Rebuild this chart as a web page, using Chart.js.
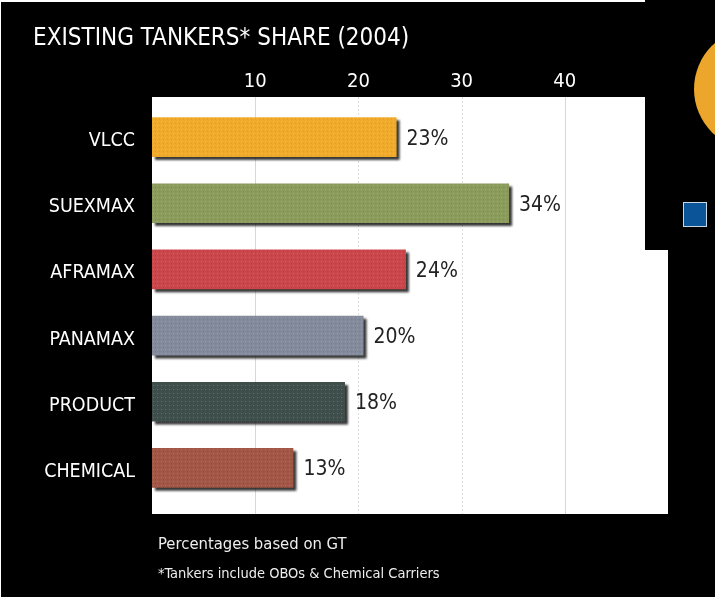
<!DOCTYPE html>
<html>
<head>
<meta charset="utf-8">
<script src="https://cdn.jsdelivr.net/npm/chart.js@4"></script>
<style>
  html, body { margin: 0; padding: 0; background: #000; }
  #wrap { width: 715px; height: 597px; }
</style>
</head>
<body>
<div id="wrap"><canvas id="grafikTanker" width="715" height="597"></canvas></div>
<script>
  var kategori = ["VLCC", "SUEXMAX", "AFRAMAX", "PANAMAX", "PRODUCT", "CHEMICAL"];
  var nilai = [23.7, 34.6, 24.6, 20.5, 18.7, 13.7];
  var labelNilai = ["23%", "34%", "24%", "20%", "18%", "13%"];
  var warna = ["#F1AB2C", "#8A9B5B", "#C9464B", "#838A9B", "#3F4F4C", "#A15646"];
  var tickX = [10, 20, 30, 40];
  var judul = "EXISTING TANKERS* SHARE (2004)";
  var catatan1 = "Percentages based on GT";
  var catatan2 = "*Tankers include OBOs & Chemical Carriers";

  var FONT = "'Liberation Sans Narrow', 'DejaVu Sans Condensed', sans-serif";

  // pola titik halus di atas warna dasar
  function pola(warnaDasar) {
    var c = document.createElement("canvas");
    c.width = 4; c.height = 4;
    var g = c.getContext("2d");
    g.fillStyle = warnaDasar;
    g.fillRect(0, 0, 4, 4);
    g.fillStyle = "rgba(255,255,255,0.18)";
    g.fillRect(1, 1, 1, 1);
    g.fillStyle = "rgba(0,0,0,0.08)";
    g.fillRect(3, 3, 1, 1);
    return g.createPattern(c, "repeat");
  }

  var latar = {
    id: "latar",
    beforeDraw: function(chart) {
      var ctx = chart.ctx;
      var x = chart.scales.x;
      var a = chart.chartArea;
      ctx.save();
      ctx.fillStyle = "#000";
      ctx.fillRect(0, 0, chart.width, chart.height);
      ctx.fillStyle = "#fff";
      ctx.fillRect(0, 0, 645, 2);
      ctx.fillRect(0, 0, 1, chart.height);
      // area plot putih
      ctx.fillRect(a.left, a.top - 7, a.right - a.left, a.bottom - a.top + 20);
      // garis grid
      tickX.forEach(function(t, i) {
        var px = Math.round(x.getPixelForValue(t)) + 0.5;
        ctx.beginPath();
        ctx.strokeStyle = (i === 0 || i === 3) ? "#d9d6d6" : "#dcdcdc";
        ctx.setLineDash((i === 0 || i === 3) ? [] : [2, 2]);
        ctx.lineWidth = 1;
        ctx.moveTo(px, a.top - 7);
        ctx.lineTo(px, a.bottom + 13);
        ctx.stroke();
      });
      ctx.setLineDash([]);
      // potongan grafik lain di kanan
      ctx.fillStyle = "#000";
      ctx.fillRect(645, 0, 70, 250);
      ctx.fillStyle = "#EBA62B";
      ctx.beginPath();
      ctx.arc(755, 89, 61, 0, Math.PI * 2);
      ctx.fill();
      ctx.fillStyle = "#0B5498";
      ctx.fillRect(683, 202, 24, 25);
      ctx.strokeStyle = "#c9d6e4";
      ctx.strokeRect(683.5, 202.5, 23, 24);
      // judul dan catatan
      ctx.fillStyle = "#fff";
      ctx.textBaseline = "alphabetic";
      ctx.textAlign = "left";
      ctx.font = "24px " + FONT;
      ctx.fillText(judul, 33, 45);
      ctx.fillStyle = "#eee";
      ctx.font = "16.5px " + FONT;
      ctx.fillText(catatan1, 158, 549);
      ctx.font = "14.5px " + FONT;
      ctx.fillText(catatan2, 158, 578);
      ctx.restore();
    },
    beforeDatasetDraw: function(chart) {
      var ctx = chart.ctx;
      ctx.save();
      ctx.shadowColor = "rgba(20,20,20,0.85)";
      ctx.shadowOffsetX = 3;
      ctx.shadowOffsetY = 3;
      ctx.shadowBlur = 2;
    },
    afterDatasetDraw: function(chart) {
      chart.ctx.restore();
    },
    afterDatasetsDraw: function(chart) {
      var ctx = chart.ctx;
      var meta = chart.getDatasetMeta(0);
      ctx.save();
      ctx.fillStyle = "#222";
      ctx.font = "21px " + FONT;
      ctx.textBaseline = "middle";
      ctx.textAlign = "left";
      meta.data.forEach(function(bar, i) {
        ctx.fillText(labelNilai[i], bar.x + 10, bar.y + 2);
      });
      ctx.restore();
    }
  };

  var ctx = document.getElementById("grafikTanker").getContext("2d");

  new Chart(ctx, {
    type: "bar",
    data: {
      labels: kategori,
      datasets: [{
        label: "Share",
        data: nilai,
        backgroundColor: warna.map(pola),
        borderWidth: 0,
        categoryPercentage: 1,
        barPercentage: 0.6
      }]
    },
    options: {
      indexAxis: "y",
      responsive: false,
      animation: false,
      layout: { padding: { left: 0, top: 0, right: 47, bottom: 96 } },
      plugins: {
        legend: { display: false },
        title: { display: false },
        tooltip: { enabled: false }
      },
      scales: {
        x: {
          position: "top",
          min: 0,
          max: 50,
          afterFit: function(s) { s.height = 104; },
          grid: { display: false, drawTicks: false },
          border: { display: false },
          ticks: {
            stepSize: 10,
            padding: 10,
            color: "#fff",
            font: { family: FONT, size: 20 },
            callback: function(v) { return tickX.indexOf(v) >= 0 ? v : ""; }
          }
        },
        y: {
          afterFit: function(s) { s.width = 152; },
          grid: { display: false, drawTicks: false },
          border: { display: false },
          ticks: {
            padding: 17,
            labelOffset: 4,
            color: "#fff",
            font: { family: FONT, size: 19.5 }
          }
        }
      }
    },
    plugins: [latar]
  });
</script>
</body>
</html>
